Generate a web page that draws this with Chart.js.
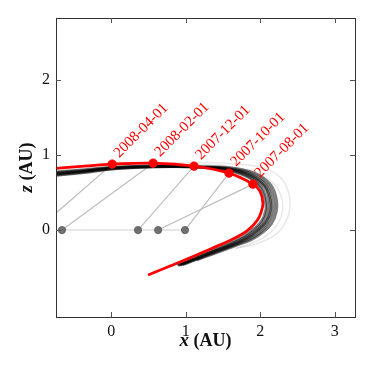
<!DOCTYPE html>
<html>
<head>
<meta charset="utf-8">
<script src="https://cdn.jsdelivr.net/npm/chart.js@4.4.1/dist/chart.umd.min.js"></script>
<style>
  html, body { margin: 0; padding: 0; background: #fff; }
  #wrap { width: 374px; height: 374px; }
</style>
</head>
<body>
<div id="wrap"><canvas id="orbitChart" width="374" height="374"></canvas></div>
<script>
// Orbit projection in the x-z plane (AU)

// dated positions on the main orbit
const dates = ['2008-04-01', '2008-02-01', '2007-12-01', '2007-10-01', '2007-08-01'];
const pointX = [0.013, 0.562, 1.111, 1.580, 1.901];
const pointZ = [0.880, 0.893, 0.853, 0.760, 0.613];
// Earth on the same dates (z = 0)
const earthX = [-1.00, -0.66, 0.36, 0.99, 0.63];
const earthZ = [0, 0, 0, 0, 0];
const earthOrbitX = [-1.0, 1.0];

// nominal orbit (red)
const orbitX = [-0.80, -0.36, 0.013, 0.562, 1.111, 1.580, 1.901, 1.995, 2.035, 2.008, 1.960, 1.874, 1.770, 1.600, 1.325, 1.058, 0.790, 0.495];
const orbitZ = [0.820, 0.853, 0.880, 0.893, 0.853, 0.760, 0.613, 0.520, 0.360, 0.230, 0.130, 0.035, -0.045, -0.135, -0.255, -0.370, -0.480, -0.600];

// clone orbits, [x, z]
const clone1 = [[-0.80,0.765],[-0.36,0.80],[0.01,0.835],[0.56,0.855],[1.11,0.845],[1.58,0.80],[1.87,0.70],[2.02,0.57],[2.08,0.42],[2.09,0.27],[2.03,0.11],[1.92,0.0],[1.80,-0.09],[1.61,-0.18],[1.34,-0.29],[1.07,-0.40],[0.92,-0.46]];
const clone2 = [[-0.80,0.755],[-0.36,0.79],[0.01,0.83],[0.56,0.85],[1.11,0.843],[1.58,0.81],[1.88,0.715],[2.05,0.58],[2.11,0.43],[2.12,0.27],[2.06,0.105],[1.94,-0.01],[1.82,-0.095],[1.62,-0.19],[1.34,-0.295],[1.07,-0.405],[0.90,-0.47]];
const clone3 = [[-0.80,0.745],[-0.36,0.787],[0.01,0.827],[0.56,0.847],[1.11,0.84],[1.58,0.813],[1.89,0.72],[2.06,0.587],[2.13,0.427],[2.14,0.267],[2.075,0.107],[1.955,-0.013],[1.834,-0.10],[1.63,-0.195],[1.35,-0.30],[1.07,-0.41],[0.90,-0.475]];
const clone4 = [[-0.80,0.74],[-0.36,0.78],[0.01,0.82],[0.56,0.843],[1.11,0.84],[1.58,0.818],[1.90,0.73],[2.08,0.595],[2.15,0.43],[2.16,0.265],[2.095,0.10],[1.97,-0.025],[1.845,-0.11],[1.64,-0.20],[1.36,-0.305],[1.08,-0.415],[0.93,-0.47]];
const clone5 = [[-0.80,0.73],[-0.36,0.772],[0.01,0.815],[0.56,0.84],[1.11,0.842],[1.58,0.825],[1.91,0.745],[2.10,0.61],[2.18,0.44],[2.19,0.26],[2.12,0.09],[1.99,-0.04],[1.86,-0.12],[1.65,-0.205],[1.37,-0.31],[1.09,-0.415],[0.96,-0.465]];
const clone6 = [[-0.80,0.72],[-0.36,0.765],[0.01,0.81],[0.56,0.84],[1.11,0.848],[1.58,0.835],[1.93,0.76],[2.13,0.62],[2.21,0.45],[2.22,0.26],[2.15,0.08],[2.01,-0.05],[1.88,-0.13],[1.67,-0.21],[1.40,-0.31],[1.15,-0.40]];
const clone7 = [[-0.80,0.775],[-0.36,0.81],[0.01,0.84],[0.56,0.86],[1.11,0.845],[1.58,0.79],[1.87,0.685],[2.01,0.55],[2.06,0.41],[2.07,0.265],[2.01,0.115],[1.90,0.01],[1.78,-0.08],[1.59,-0.175],[1.32,-0.285],[1.05,-0.395],[0.88,-0.46]];
const faint1 = [[-0.80,0.74],[0.01,0.835],[0.56,0.885],[1.11,0.90],[1.58,0.89],[2.03,0.83],[2.26,0.71],[2.37,0.53],[2.40,0.33],[2.34,0.11],[2.20,-0.065],[1.97,-0.175],[1.69,-0.24]];
const faint2 = [[-0.80,0.74],[0.01,0.83],[0.56,0.87],[1.11,0.875],[1.58,0.85],[1.95,0.76],[2.18,0.62],[2.28,0.45],[2.30,0.27],[2.24,0.09],[2.10,-0.06],[1.90,-0.17],[1.66,-0.25]];

const xTicks = [0, 1, 2, 3];
const zTicks = [0, 1, 2];

const toXY = (xs, zs) => xs.map((x, i) => ({ x: x, y: zs[i] }));
const pairs = arr => arr.map(p => ({ x: p[0], y: p[1] }));

const lineSet = (data, color, width, extra) => Object.assign({
  data: data,
  showLine: true,
  borderColor: color,
  borderWidth: width,
  pointRadius: 0,
  tension: 0.4,
  fill: false
}, extra || {});

// datasets listed top-most first
const datasets = [];
datasets.push({
  data: toXY(pointX, pointZ),
  backgroundColor: '#ff0000',
  borderColor: '#ff0000',
  pointRadius: 4.2,
  showLine: false
});
datasets.push(lineSet(toXY(orbitX, orbitZ), '#ff0000', 2.8));
[clone1, clone2, clone3, clone4, clone5, clone6, clone7].forEach(c => {
  datasets.push(lineSet(pairs(c), 'rgba(0,0,0,0.5)', 2.4));
});
[faint1, faint2].forEach(c => {
  datasets.push(lineSet(pairs(c), 'rgba(0,0,0,0.09)', 1.5));
});
datasets.push({
  data: toXY(earthX, earthZ),
  backgroundColor: 'rgba(90,90,90,0.85)',
  borderColor: 'rgba(90,90,90,0.85)',
  pointRadius: 3.6,
  showLine: false
});
dates.forEach((d, i) => {
  datasets.push(lineSet([{ x: pointX[i], y: pointZ[i] }, { x: earthX[i], y: earthZ[i] }], '#bdbdbd', 1.2, { tension: 0 }));
});
datasets.push(lineSet(earthOrbitX.map(x => ({ x: x, y: 0 })), '#dedede', 1.5, { tension: 0 }));

// frame, inward ticks, date labels and axis titles
const decorations = {
  id: 'decorations',
  afterDraw(chart) {
    const ctx = chart.ctx;
    const a = chart.chartArea;
    const xs = chart.scales.x, ys = chart.scales.y;
    ctx.save();

    // date labels
    ctx.fillStyle = '#ff0000';
    ctx.font = '15px "Liberation Serif", serif';
    ctx.textAlign = 'left';
    ctx.textBaseline = 'alphabetic';
    dates.forEach((d, i) => {
      const px = xs.getPixelForValue(pointX[i]);
      const py = ys.getPixelForValue(pointZ[i]);
      ctx.save();
      ctx.translate(px + 7, py - 6);
      ctx.rotate(-Math.PI / 4);
      ctx.fillText(d, 0, 0);
      ctx.restore();
    });

    // frame
    ctx.strokeStyle = '#333';
    ctx.lineWidth = 1;
    ctx.strokeRect(Math.round(a.left) + 0.5, Math.round(a.top) + 0.5,
      Math.round(a.right - a.left), Math.round(a.bottom - a.top));

    // ticks pointing inward
    ctx.strokeStyle = '#555';
    ctx.beginPath();
    xTicks.forEach(v => {
      const px = Math.round(xs.getPixelForValue(v)) + 0.5;
      ctx.moveTo(px, a.bottom); ctx.lineTo(px, a.bottom - 5);
      ctx.moveTo(px, a.top); ctx.lineTo(px, a.top + 5);
    });
    zTicks.forEach(v => {
      const py = Math.round(ys.getPixelForValue(v)) + 0.5;
      ctx.moveTo(a.left, py); ctx.lineTo(a.left + 5, py);
      ctx.moveTo(a.right, py); ctx.lineTo(a.right - 5, py);
    });
    ctx.stroke();

    // axis titles: bold italic variable + bold unit
    const title = (v, cx, cy, rot) => {
      ctx.save();
      ctx.translate(cx, cy);
      ctx.rotate(rot);
      ctx.fillStyle = '#111';
      ctx.textBaseline = 'middle';
      const f1 = 'bold italic 19px "Liberation Serif", serif';
      const f2 = 'bold 18px "Liberation Serif", serif';
      ctx.font = f1; const w1 = ctx.measureText(v).width;
      ctx.font = f2; const w2 = ctx.measureText(' (AU)').width;
      let x0 = -(w1 + w2) / 2;
      ctx.font = f1; ctx.textAlign = 'left'; ctx.fillText(v, x0, 0);
      ctx.font = f2; ctx.fillText(' (AU)', x0 + w1, 0);
      ctx.restore();
    };
    title('x', (a.left + a.right) / 2, 341, 0);
    title('z', 27, (a.top + a.bottom) / 2, -Math.PI / 2);
    ctx.restore();
  }
};

const tickFont = { family: '"Liberation Serif", serif', size: 16 };

new Chart(document.getElementById('orbitChart').getContext('2d'), {
  type: 'scatter',
  data: { datasets: datasets },
  options: {
    responsive: false,
    animation: false,
    events: [],
    layout: { padding: { top: 18, right: 19, left: 0, bottom: 0 } },
    plugins: { legend: { display: false }, tooltip: { enabled: false } },
    scales: {
      x: {
        type: 'linear',
        min: -0.74,
        max: 3.27,
        afterBuildTicks: s => { s.ticks = xTicks.map(v => ({ value: v })); },
        afterFit: s => { s.height = 57; },
        grid: { display: false, drawTicks: false },
        border: { display: false },
        ticks: { font: tickFont, color: '#111', padding: 5 }
      },
      y: {
        type: 'linear',
        min: -1.16,
        max: 2.83,
        afterBuildTicks: s => { s.ticks = zTicks.map(v => ({ value: v })); },
        afterFit: s => { s.width = 56; },
        grid: { display: false, drawTicks: false },
        border: { display: false },
        ticks: { font: tickFont, color: '#111', padding: 6 }
      }
    }
  },
  plugins: [decorations]
});
</script>
</body>
</html>
